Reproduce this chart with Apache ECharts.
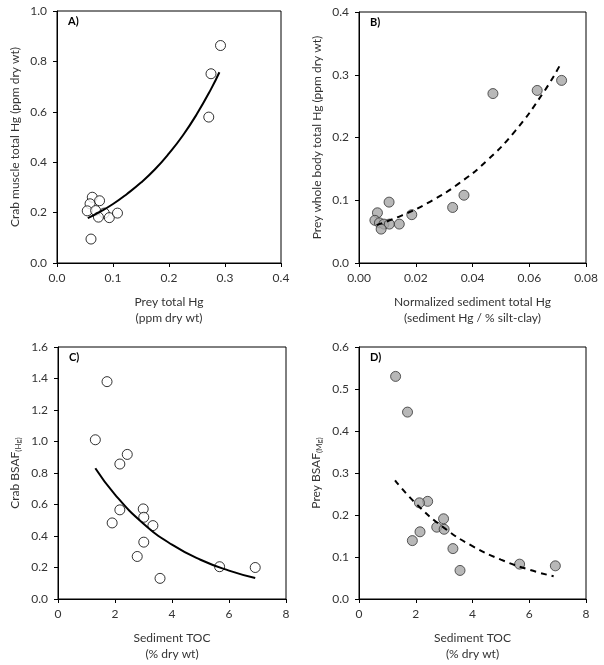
<!DOCTYPE html>
<html>
<head>
<meta charset="utf-8">
<script src="https://cdn.jsdelivr.net/npm/echarts@6/dist/echarts.min.js"></script>
<style>html,body{margin:0;padding:0;background:#fff}#c{width:604px;height:665px}</style>
</head>
<body>
<div id="c"></div>
<script>
// Panel A: prey total Hg vs crab muscle total Hg
const aX = [0.292, 0.275, 0.271, 0.063, 0.076, 0.059, 0.054, 0.069, 0.0845, 0.074, 0.0934, 0.108, 0.0607];
const aY = [0.863, 0.751, 0.579, 0.261, 0.247, 0.235, 0.207, 0.208, 0.198, 0.182, 0.180, 0.198, 0.095];
const aFitX = [0.055, 0.075, 0.10, 0.125, 0.15, 0.175, 0.20, 0.225, 0.25, 0.275, 0.29];
const aFitY = [0.178, 0.201, 0.234, 0.274, 0.319, 0.372, 0.435, 0.507, 0.592, 0.690, 0.757];
// Panel B: normalized sediment Hg vs prey whole body Hg
const bX = [0.0106, 0.0065, 0.0056, 0.0072, 0.0088, 0.0107, 0.0078, 0.0142, 0.0186, 0.033, 0.037, 0.0472, 0.0628, 0.0714];
const bY = [0.097, 0.080, 0.068, 0.064, 0.062, 0.062, 0.054, 0.062, 0.077, 0.0885, 0.108, 0.270, 0.275, 0.291];
const bFitX = [0.0062, 0.015, 0.025, 0.035, 0.045, 0.055, 0.065, 0.0706];
const bFitY = [0.0604, 0.0756, 0.0976, 0.1261, 0.1628, 0.2103, 0.2717, 0.3134];
// Panel C: sediment TOC vs crab BSAF
const cX = [1.72, 1.31, 2.43, 2.17, 2.17, 2.99, 3.01, 1.90, 3.33, 3.01, 2.78, 3.58, 5.67, 6.92];
const cY = [1.380, 1.011, 0.918, 0.857, 0.566, 0.572, 0.519, 0.483, 0.466, 0.361, 0.270, 0.131, 0.205, 0.200];
const cFitX = [1.31, 2, 3, 4, 5, 6, 6.92];
const cFitY = [0.830, 0.663, 0.478, 0.345, 0.249, 0.180, 0.133];
// Panel D: sediment TOC vs prey BSAF
const dX = [1.29, 1.71, 2.42, 2.13, 2.98, 2.74, 3.00, 2.15, 1.88, 3.31, 3.56, 5.66, 6.92];
const dY = [0.530, 0.445, 0.2325, 0.229, 0.191, 0.171, 0.166, 0.160, 0.139, 0.120, 0.068, 0.083, 0.079];
const dFitX = [1.27, 2, 3, 4, 5, 6, 6.86];
const dFitY = [0.2825, 0.2276, 0.1693, 0.1259, 0.0937, 0.0697, 0.054];

const xTitles = ['Prey total Hg\n(ppm dry wt)', 'Normalized sediment total Hg\n(sediment Hg / % silt-clay)', 'Sediment TOC\n(% dry wt)', 'Sediment TOC\n(% dry wt)'];
const panelLabels = ['A)', 'B)', 'C)', 'D)'];

const FONT = 'Lato';
const grids = [
  {left: 57, top: 11, width: 224, height: 252},
  {left: 359, top: 12, width: 227, height: 251},
  {left: 58, top: 347, width: 228, height: 252},
  {left: 359, top: 347, width: 227, height: 252}
];
const xCfg = [
  {min: 0, max: 0.4, interval: 0.1, dec: 1},
  {min: 0, max: 0.08, interval: 0.02, dec: 2},
  {min: 0, max: 8, interval: 2, dec: 0},
  {min: 0, max: 8, interval: 2, dec: 0}
];
const yCfg = [
  {min: 0, max: 1.0, interval: 0.2, dec: 1},
  {min: 0, max: 0.4, interval: 0.1, dec: 1},
  {min: 0, max: 1.6, interval: 0.2, dec: 1},
  {min: 0, max: 0.6, interval: 0.1, dec: 1}
];
const yNames = [
  'Crab muscle total Hg (ppm dry wt)',
  'Prey whole body total Hg (ppm dry wt)',
  'Crab BSAF{s|(Hg)}',
  'Prey BSAF{s|(Mg)}'
];
const labelStyle = {fontFamily: FONT, fontSize: 12, color: '#333'};

const xAxis = xCfg.map((c, i) => ({
  type: 'value', gridIndex: i, min: c.min, max: c.max, interval: c.interval,
  splitLine: {show: false},
  axisLine: {lineStyle: {color: '#000', width: 1}},
  axisTick: {length: 4, lineStyle: {color: '#000'}},
  axisLabel: Object.assign({margin: 9, formatter: v => v.toFixed(c.dec)}, labelStyle),
  name: xTitles[i], nameLocation: 'middle', nameGap: 31,
  nameTextStyle: {fontFamily: FONT, fontSize: 12, color: '#333', lineHeight: 16}
}));
const yAxis = yCfg.map((c, i) => ({
  type: 'value', gridIndex: i, min: c.min, max: c.max, interval: c.interval,
  splitLine: {show: false},
  axisLine: {lineStyle: {color: '#000', width: 1}},
  axisTick: {length: 4, lineStyle: {color: '#000'}},
  axisLabel: Object.assign({margin: 10, formatter: v => v.toFixed(c.dec)}, labelStyle),
  name: yNames[i], nameLocation: 'middle', nameRotate: 90, nameGap: 36,
  nameTextStyle: {fontFamily: FONT, fontSize: 12, color: '#333',
    rich: {s: {fontFamily: FONT, fontSize: 8, color: '#333', verticalAlign: 'bottom', padding: [6, 0, 0, 0]}}}
}));

function pts(xs, ys) { return xs.map((x, i) => [x, ys[i]]); }
const hollow = {color: '#fff', borderColor: '#000', borderWidth: 1};
const grey = {color: '#a6a6a6', borderColor: '#333', borderWidth: 1};

const series = [
  {type: 'line', xAxisIndex: 0, yAxisIndex: 0, data: pts(aFitX, aFitY), smooth: true, showSymbol: false, symbol: 'none', lineStyle: {color: '#000', width: 2}, z: 3},
  {type: 'scatter', xAxisIndex: 0, yAxisIndex: 0, data: pts(aX, aY), symbolSize: 10, itemStyle: hollow, z: 2},
  {type: 'scatter', xAxisIndex: 1, yAxisIndex: 1, data: pts(bX, bY), symbolSize: 10, itemStyle: grey, z: 2},
  {type: 'line', xAxisIndex: 1, yAxisIndex: 1, data: pts(bFitX, bFitY), smooth: true, showSymbol: false, symbol: 'none', lineStyle: {color: '#000', width: 2, type: [6, 5]}, z: 3},
  {type: 'line', xAxisIndex: 2, yAxisIndex: 2, data: pts(cFitX, cFitY), smooth: true, showSymbol: false, symbol: 'none', lineStyle: {color: '#000', width: 2}, z: 3},
  {type: 'scatter', xAxisIndex: 2, yAxisIndex: 2, data: pts(cX, cY), symbolSize: 10, itemStyle: hollow, z: 2},
  {type: 'scatter', xAxisIndex: 3, yAxisIndex: 3, data: pts(dX, dY), symbolSize: 10, itemStyle: grey, z: 2},
  {type: 'line', xAxisIndex: 3, yAxisIndex: 3, data: pts(dFitX, dFitY), smooth: true, showSymbol: false, symbol: 'none', lineStyle: {color: '#000', width: 2, type: [6, 5]}, z: 3}
];

const graphic = grids.map((g, i) => ({
  type: 'text', left: g.left + 11, top: g.top + 5,
  style: {text: panelLabels[i], fontFamily: FONT, fontSize: 11, fontWeight: 'bold', fill: '#000'}
}));

const chart = echarts.init(document.getElementById('c'), null, {renderer: 'canvas'});
chart.setOption({
  animation: false,
  backgroundColor: '#fff',
  grid: grids.map(g => Object.assign({show: true, borderColor: '#000', borderWidth: 1, backgroundColor: 'transparent'}, g)),
  xAxis, yAxis, series, graphic
});
</script>
</body>
</html>
